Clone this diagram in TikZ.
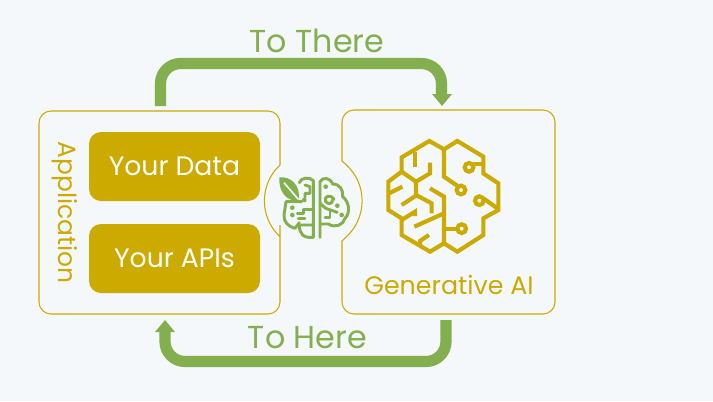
\documentclass[tikz,border=0pt]{standalone}
\usepackage{fontspec}
\setmainfont{Poppins}
\definecolor{bg}{HTML}{F4F8FB}
\definecolor{gold}{HTML}{CCAA00}
\definecolor{leaf}{HTML}{84AF4E}
\tikzset{
  panel/.style={draw=gold,line width=0.8pt},
  card/.style={fill=gold,rounded corners=9pt,minimum width=128.25pt,minimum height=51.75pt,inner sep=0pt,text=white,font=\fontsize{20}{24}\selectfont},
  flow/.style={draw=leaf,line width=8.4pt,rounded corners=15pt},
  flowtip/.style={fill=leaf},
  flowlabel/.style={text=leaf,font=\fontsize{23.8}{28}\selectfont,inner sep=0pt},
  goldlabel/.style={text=gold,font=\fontsize{19}{22}\selectfont,inner sep=0pt},
  brainline/.style={draw=gold,line width=3.1pt,line join=miter},
  smallbrain/.style={draw=leaf,line width=2.2pt,line join=round,line cap=round},
}
\begin{document}
\begin{tikzpicture}[x=0.75pt,y=-0.75pt]
\path[fill=bg,use as bounding box] (0,0) rectangle (713,401);
% panels
\draw[panel] (280,165) arc[start angle=227,end angle=133,radius=49]
  [rounded corners=9pt] -- (280,237) -- (280,314) -- (39,314) -- (39,111) -- (280,111) -- (280,165);
\draw[panel] (342,161) -- (346.5,165) arc[start angle=-47,end angle=47,radius=49]
  -- (342,241) [rounded corners=9pt] -- (342,314) -- (555,314) -- (555,110) -- (342,110) -- (342,161);
\coordinate (panelA) at (160.5,106);
\coordinate (panelAin) at (165,332);
\coordinate (panelB) at (441.5,94);
\coordinate (panelBout) at (446,320);
\node[card] (data) at (174.5,166.5) {Your Data};
\node[card] (apis) at (174.5,258.5) {Your APIs};
\node[goldlabel,rotate=-90,font=\fontsize{18.7}{22}\selectfont] (app) at (65,212.5) {Application};
\node[goldlabel] (gen) at (449,285) {Generative AI};
% arrows
\draw[flow] (panelA) -- (160.5,63.5) -- (441.5,63.5) -- (panelB);
\fill[flowtip] (432,94) -- (452,94) -- (442,106) -- cycle;
\draw[flow] (panelBout) -- (446,361.5) -- (165,361.5) -- (panelAin);
\fill[flowtip] (155,332) -- (175,332) -- (165,320) -- cycle;
\node[flowlabel] (there) at (317,41) {To There};
\node[flowlabel] (here) at (307.5,338) {To Here};
% large brain
\begin{scope}[shift={(380,130)},x=0.25pt,y=-0.25pt]
\draw[brainline] (192,58) -- (148,33) -- (65,82) -- (65,125) -- (25,155) -- (25,240) -- (65,265) -- (65,315) -- (150,365) -- (192,340) -- (232,365) -- (310,315) -- (310,265) -- (355,240) -- (355,160) -- (310,130) -- (310,80) -- (232,33) -- cycle;
\draw[brainline] (192,58) -- (192,140) -- (233,168);
\draw[brainline] (243,180) circle[radius=13];
\draw[brainline] (267,112) circle[radius=13];
\draw[brainline] (280,102) -- (310,102);
\draw[brainline] (298,212) circle[radius=13];
\draw[brainline] (310,205) -- (352,235);
\draw[brainline] (245,296) circle[radius=13];
\draw[brainline] (232,296) -- (192,296);
\draw[brainline] (192,340) -- (192,200) -- (150,175);
\draw[brainline] (105,65) -- (105,110);
\draw[brainline] (65,125) -- (108,155) -- (150,130) -- (150,98);
\draw[brainline] (108,155) -- (108,195) -- (155,220) -- (155,250);
\draw[brainline] (27,190) -- (67,170);
\draw[brainline] (65,225) -- (108,197);
\draw[brainline] (65,270) -- (105,245) -- (105,258);
\draw[brainline] (192,250) -- (103,290);
\draw[brainline] (120,345) -- (120,333) -- (147,315);
\end{scope}
% small brain
\begin{scope}[shift={(260,160)},x=0.25pt,y=-0.25pt]
\fill[leaf] (58,52) .. controls (90,48) and (125,75) .. (115,122) .. controls (80,125) and (55,95) .. (58,52);
\draw[bg,line width=1.2pt] (72,68) -- (115,118);
\draw[smallbrain] (118,68) .. controls (122,52) and (150,50) .. (160,62) -- (160,232) .. controls (130,235) and (118,222) .. (118,195) -- (160,195);
\draw[smallbrain] (118,188) -- (105,205) .. controls (85,200) and (70,185) .. (72,165) -- (78,125) -- (125,125);
\draw[smallbrain] (135,75) -- (150,80) -- (150,100) -- (135,100) -- (135,112);
\draw[smallbrain] (160,148) -- (130,148) -- (130,160) -- (112,160);
\draw[smallbrain] (115,176) -- (135,176);
\fill[leaf] (133,120) circle[radius=7] (97,143) circle[radius=7] (97,165) circle[radius=7];
\draw[smallbrain] (180,232) -- (180,65) .. controls (188,50) and (210,52) .. (218,72) .. controls (240,72) and (250,90) .. (248,110) .. controls (268,125) and (272,160) .. (255,175) .. controls (250,195) and (225,205) .. (205,192) -- (180,192);
\draw[smallbrain] (180,130) -- (197,145) -- (232,157);
\draw[smallbrain] (222,118) .. controls (210,100) and (190,110) .. (197,125) .. controls (205,135) and (220,130) .. (217,120);
\fill[leaf] (197,80) circle[radius=7] (232,137) circle[radius=7] (245,165) circle[radius=7];
\draw[smallbrain] (210,152) -- (210,172) -- (195,172);
\end{scope}
\end{tikzpicture}
\end{document}
